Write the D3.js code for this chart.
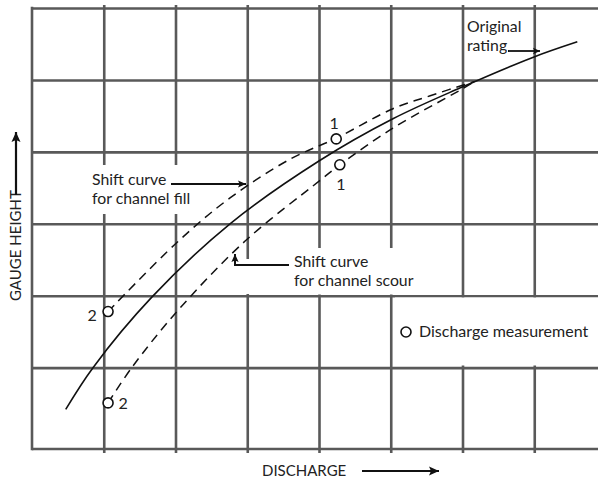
<!DOCTYPE html>
<html>
<head>
<meta charset="utf-8">
<script src="https://cdn.jsdelivr.net/npm/d3@7"></script>
<style>
  html, body { margin: 0; padding: 0; background: #fff; }
  svg { display: block; }
  text { font-family: Lato, "Open Sans", sans-serif; fill: #222; }
</style>
</head>
<body>
<div id="chart"></div>
<script>
// ---- data (grid units: discharge on x, gauge height on y) ----
const gridX = [1, 2, 3, 4, 5, 6, 7];
const gridY = [1, 2, 3, 4, 5, 6];

const ratingQ = [0.47, 0.85, 1.67, 2.76, 4.01, 5.03, 5.97, 6.97, 7.60];
const ratingH = [0.42, 1.00, 1.98, 3.00, 3.88, 4.46, 4.89, 5.31, 5.53];

const fillQ = [1.06, 2.02, 2.76, 3.60, 4.24, 5.03, 5.55, 6.17];
const fillH = [1.78, 2.74, 3.36, 3.90, 4.19, 4.60, 4.78, 4.98];

const scourQ = [1.06, 1.39, 2.02, 2.97, 4.01, 4.29, 5.03, 5.97, 6.17];
const scourH = [0.51, 1.00, 1.78, 2.76, 3.60, 3.82, 4.33, 4.86, 4.98];

const measQ = [4.24, 4.29, 1.06, 1.06];
const measH = [4.18, 3.82, 1.78, 0.51];
const measLabel = ["1", "1", "2", "2"];

const xTitle = "DISCHARGE";
const yTitle = "GAUGE HEIGHT";
const legendLabel = "Discharge measurement";

// ---- layout ----
const W = 598, H = 478;
const plotLeft = 32, plotTop = 8, plotBottom = 449;
const x = d3.scaleLinear().domain([0, 8]).range([32, 606]);
const y = d3.scaleLinear().domain([0, 6]).range([439.6, 8]);

const svg = d3.select("#chart").append("svg").attr("width", W).attr("height", H);

const gridColor = "#595959", gridW = 2.6;

// vertical grid lines
const gxa = svg.append("g").attr("transform", "translate(0,453)")
  .call(d3.axisBottom(x).tickValues(gridX).tickSize(-448).tickFormat(""));
gxa.select(".domain").remove();
gxa.selectAll(".tick line").attr("stroke", gridColor).attr("stroke-width", gridW);

// horizontal grid lines
const gya = svg.append("g").attr("transform", `translate(${plotLeft},0)`)
  .call(d3.axisLeft(y).tickValues(gridY).tickSize(-(W - plotLeft)).tickFormat(""));
gya.select(".domain").remove();
gya.selectAll(".tick line").attr("stroke", gridColor).attr("stroke-width", gridW);

// frame: left and bottom
svg.append("line").attr("x1", plotLeft).attr("x2", plotLeft).attr("y1", plotTop - 1.3).attr("y2", plotBottom + 1.3)
  .attr("stroke", gridColor).attr("stroke-width", gridW);
svg.append("line").attr("x1", plotLeft).attr("x2", W).attr("y1", plotBottom).attr("y2", plotBottom)
  .attr("stroke", gridColor).attr("stroke-width", gridW);

// white backgrounds behind the annotations
const masks = [
  [40, 165, 200, 49],
  [286, 248, 116, 46.5],
  [240, 259, 50, 35],
  [395, 297.5, 203, 68]
];
svg.selectAll("rect.mask").data(masks).enter().append("rect")
  .attr("class", "mask")
  .attr("x", d => d[0]).attr("y", d => d[1]).attr("width", d => d[2]).attr("height", d => d[3])
  .attr("fill", "#fff");

// curves
const line = d3.line().x(d => x(d[0])).y(d => y(d[1])).curve(d3.curveCatmullRom.alpha(0.5));
const zip = (a, b) => a.map((v, i) => [v, b[i]]);

svg.append("path").attr("d", line(zip(fillQ, fillH)))
  .attr("fill", "none").attr("stroke", "#111").attr("stroke-width", 1.5).attr("stroke-dasharray", "9,6");
svg.append("path").attr("d", line(zip(scourQ, scourH)))
  .attr("fill", "none").attr("stroke", "#111").attr("stroke-width", 1.5).attr("stroke-dasharray", "9,6");
svg.append("path").attr("d", line(zip(ratingQ, ratingH)))
  .attr("fill", "none").attr("stroke", "#111").attr("stroke-width", 1.6);

// measurement points
const meas = measQ.map((q, i) => ({ q, h: measH[i], label: measLabel[i] }));
svg.selectAll("circle.meas").data(meas).enter().append("circle")
  .attr("class", "meas")
  .attr("cx", d => x(d.q)).attr("cy", d => y(d.h)).attr("r", 5)
  .attr("fill", "#fff").attr("stroke", "#111").attr("stroke-width", 1.6);

const labelOffsets = [[-2, -10], [1, 25], [-16, 9], [15, 6]];
svg.selectAll("text.meas").data(meas).enter().append("text")
  .attr("class", "meas")
  .attr("x", (d, i) => x(d.q) + labelOffsets[i][0])
  .attr("y", (d, i) => y(d.h) + labelOffsets[i][1])
  .attr("text-anchor", "middle").attr("font-size", 16)
  .text(d => d.label);

// arrow helper
function arrowHead(tx, ty, dir, size) {
  const s = size || 8, w = s * 0.45;
  let pts;
  if (dir === "right") pts = [[tx, ty], [tx - s, ty - w], [tx - s * 0.8, ty], [tx - s, ty + w]];
  else if (dir === "up") pts = [[tx, ty], [tx - w, ty + s], [tx, ty + s * 0.8], [tx + w, ty + s]];
  svg.append("path").attr("d", "M" + pts.map(p => p.join(",")).join("L") + "Z").attr("fill", "#111");
}
function arrowLine(points, dir, width, size) {
  svg.append("path").attr("d", "M" + points.map(p => p.join(",")).join("L"))
    .attr("fill", "none").attr("stroke", "#111").attr("stroke-width", width);
  const t = points[points.length - 1];
  arrowHead(t[0], t[1], dir, size);
}

// annotations
const fs = 15.8;
svg.append("text").attr("x", 92).attr("y", 185).attr("font-size", fs).text("Shift curve");
svg.append("text").attr("x", 92).attr("y", 204).attr("font-size", fs).text("for channel fill");
arrowLine([[171, 184], [246, 184]], "right", 2, 8);

svg.append("text").attr("x", 294).attr("y", 267).attr("font-size", fs).text("Shift curve");
svg.append("text").attr("x", 294).attr("y", 286).attr("font-size", fs).text("for channel scour");
arrowLine([[289, 265], [235, 265], [235, 254]], "up", 2, 8);

svg.append("text").attr("x", 467).attr("y", 32).attr("font-size", fs).text("Original");
svg.append("text").attr("x", 467).attr("y", 51).attr("font-size", fs).text("rating");
arrowLine([[508, 51], [540, 51]], "right", 1.8, 7);

// legend
svg.append("circle").attr("cx", 406).attr("cy", 332).attr("r", 5)
  .attr("fill", "#fff").attr("stroke", "#111").attr("stroke-width", 1.6);
svg.append("text").attr("x", 419).attr("y", 337).attr("font-size", 16).text(legendLabel);

// axis titles
svg.append("text").attr("x", 262).attr("y", 476).attr("font-size", 15).text(xTitle);
arrowLine([[362, 471], [439, 471]], "right", 2.2, 10);

svg.append("text").attr("transform", "translate(21,301) rotate(-90)")
  .attr("font-size", 15).text(yTitle);
arrowLine([[16, 195], [16, 132]], "up", 2.2, 10);
</script>
</body>
</html>
